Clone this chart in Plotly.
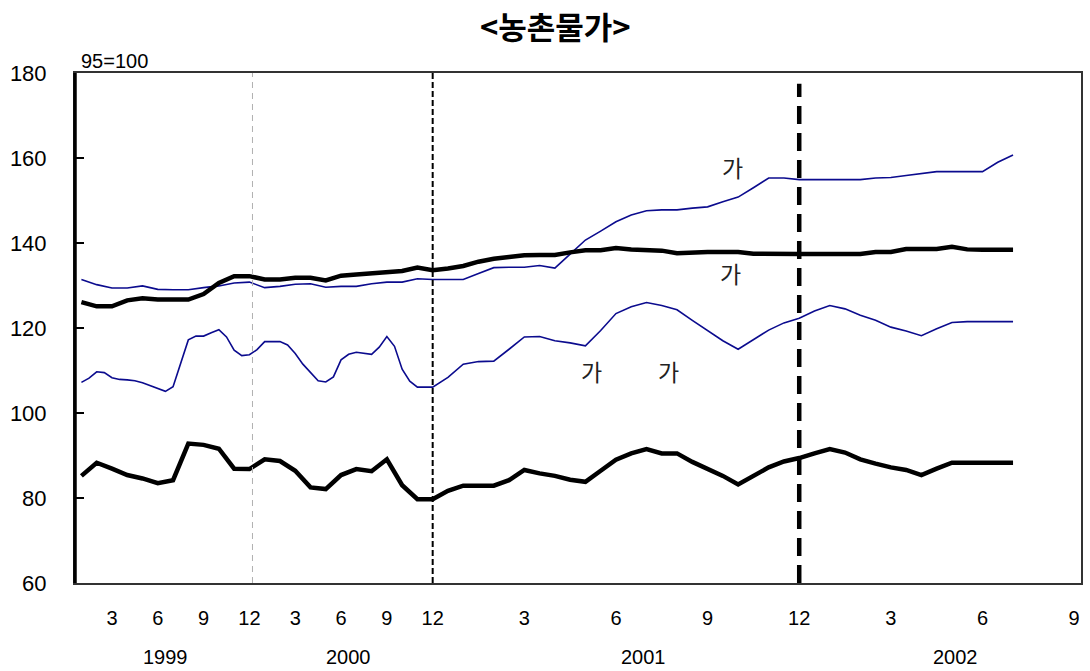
import numpy as np
import plotly.graph_objects as go

# Rural price indices, 1995 = 100
# 1999-2000: monthly observations; 2001 onward: semi-monthly observations
black_upper = [
    126.1, 125.1, 125.1, 126.5, 127.0, 126.7, 126.7, 126.7, 128.0, 130.6, 132.2, 132.2,
    131.4, 131.4, 131.8, 131.8, 131.2, 132.3, 132.6, 132.9, 133.2, 133.4, 134.2, 133.6,
    134.0, 134.6, 135.6, 136.3, 136.7, 137.1, 137.2, 137.2, 137.8, 138.3, 138.3, 138.8,
    138.5, 138.3, 138.2, 137.6, 137.8, 137.9, 137.9, 137.9, 137.5, 137.4, 137.4, 137.4,
    137.4, 137.4, 137.4, 137.4, 137.9, 137.9, 138.6, 138.6, 138.6, 139.1, 138.5, 138.4,
    138.4, 138.4,
]
blue_upper = [
    131.4, 130.2, 129.4, 129.4, 129.9, 129.1, 129.0, 129.0, 129.5, 129.9, 130.6, 130.8,
    129.5, 129.8, 130.3, 130.4, 129.6, 129.8, 129.8, 130.4, 130.8, 130.8, 131.6, 131.4,
    131.4, 131.4, 132.8, 134.2, 134.3, 134.3, 134.7, 134.1, 137.4, 140.7, 142.8, 145.0,
    146.6, 147.6, 147.8, 147.8, 148.2, 148.5, 149.7, 150.8, 153.0, 155.3, 155.3, 154.9,
    154.9, 154.9, 154.9, 154.9, 155.3, 155.4, 155.9, 156.3, 156.8, 156.8, 156.8, 156.8,
    159.0, 160.7,
]
black_lower = [
    85.2, 88.3, 86.9, 85.4, 84.6, 83.5, 84.2, 92.8, 92.5, 91.6, 86.9, 86.8,
    89.1, 88.7, 86.4, 82.5, 82.1, 85.4, 86.8, 86.3, 89.1, 83.0, 79.7, 79.7,
    81.7, 82.9, 82.9, 82.9, 84.2, 86.6, 85.8, 85.2, 84.3, 83.8, 86.4, 89.0,
    90.5, 91.5, 90.5, 90.5, 88.5, 86.8, 85.2, 83.2, 85.2, 87.2, 88.6, 89.4,
    90.5, 91.5, 90.7, 89.1, 88.1, 87.2, 86.6, 85.4, 86.9, 88.3, 88.3, 88.3,
    88.3, 88.3,
]
# this series is semi-monthly over the whole period
blue_lower_9900 = [
    107.2, 108.2, 109.7, 109.5, 108.3, 107.9, 107.8, 107.6, 107.1, 106.4, 105.7, 105.1,
    106.2, 111.5, 117.2, 118.1, 118.1, 118.9, 119.6, 117.9, 114.8, 113.5, 113.7, 114.9,
    116.8, 116.8, 116.8, 116.0, 114.0, 111.5, 109.6, 107.6, 107.3, 108.5, 112.5, 113.8,
    114.3, 114.1, 113.8, 115.5, 118.0, 115.7, 110.3, 107.5, 106.1, 106.1, 106.1,
]
blue_lower_0102 = [
    108.4, 111.5, 112.1, 112.2, 115.0, 117.9, 118.0, 117.0, 116.5, 115.8, 119.4, 123.4,
    125.0, 126.0, 125.3, 124.3, 121.8, 119.5, 117.0, 115.0, 117.3, 119.5, 121.2, 122.3,
    124.0, 125.3, 124.5, 123.0, 121.8, 120.2, 119.3, 118.2, 119.8, 121.3, 121.5, 121.5,
    121.5, 121.5,
]

tick_periods = [(1999, 3), (1999, 6), (1999, 9), (1999, 12),
                (2000, 3), (2000, 6), (2000, 9), (2000, 12),
                (2001, 3), (2001, 6), (2001, 9), (2001, 12),
                (2002, 3), (2002, 6), (2002, 9)]
years = [1999, 2000, 2001, 2002]
marker_periods = [(1999, 12), (2000, 12), (2001, 12)]
text_marks = [  # (year, month, value, text)
    (2001, 9.82, 158.0, "가"),
    (2001, 9.75, 133.0, "가"),
    (2001, 5.2, 110.0, "가"),
    (2001, 7.73, 110.0, "가"),
]


def pos(year, month):
    """Axis position: one unit per month through 2000, one unit per half-month after."""
    if year <= 2000:
        return (year - 1999) * 12 + month - 1
    return 23 + 2 * ((year - 2001) * 12 + month)


x_main = np.arange(len(black_upper))
x_blue_lower = np.concatenate([np.arange(len(blue_lower_9900)) * 0.5,
                               24 + np.arange(len(blue_lower_0102))])
y_blue_lower = blue_lower_9900 + blue_lower_0102

X_MIN, X_MAX = -0.42, 65.45
NAVY = "#0b0b8e"
LAT = "Liberation Sans, Arial, sans-serif"
KR = "Noto Sans CJK KR, sans-serif"

fig = go.Figure()
fig.add_trace(go.Scatter(x=x_main, y=blue_upper, mode="lines",
                         line=dict(color=NAVY, width=1.6)))
fig.add_trace(go.Scatter(x=x_blue_lower, y=y_blue_lower, mode="lines",
                         line=dict(color=NAVY, width=1.6)))
fig.add_trace(go.Scatter(x=x_main, y=black_upper, mode="lines",
                         line=dict(color="black", width=4.5)))
fig.add_trace(go.Scatter(x=x_main, y=black_lower, mode="lines",
                         line=dict(color="black", width=4.5)))

# vertical year-end markers
styles = [dict(color="#b0b0b0", width=1, dash="6px,5px"),
          dict(color="black", width=2, dash="6px,3px"),
          dict(color="black", width=4.5, dash="18px,9px")]
tops = [180, 180, 177.5]
for (yr, mo), st, top in zip(marker_periods, styles, tops):
    xv = pos(yr, mo) + (0.2 if yr == 1999 else 0)
    fig.add_shape(type="line", x0=xv, x1=xv, y0=60, y1=top, xref="x", yref="y",
                  line=st, layer="above")

# heavy left axis line
fig.add_shape(type="line", xref="paper", yref="paper", x0=0, x1=0, y0=0, y1=1,
              line=dict(color="black", width=3.5))

for yr, mo, val, txt in text_marks:
    fig.add_annotation(x=pos(yr, mo), y=val, text=txt, showarrow=False,
                       font=dict(family=KR, size=23, color="#222"))

# year labels under the month ticks
for yr in years:
    first = pos(yr, 1)
    last = min(pos(yr, 12), X_MAX)
    fig.add_annotation(x=(first + last) / 2 + (0.8 if yr == 2001 else 0), y=0,
                       xref="x", yref="paper", yshift=-87, text=str(yr),
                       showarrow=False, font=dict(family=LAT, size=20, color="black"))

fig.add_annotation(xref="paper", yref="paper", x=0.478, y=1.0, yanchor="top",
                   yshift=72, text="<b>&lt;농촌물가&gt;</b>", showarrow=False,
                   font=dict(family=KR, size=31, color="black"))
fig.add_annotation(xref="paper", yref="paper", x=0.004, y=1.0, yshift=-1,
                   xanchor="left", yanchor="bottom", text="95=100", showarrow=False,
                   font=dict(family=LAT, size=20, color="black"))

fig.update_xaxes(range=[X_MIN, X_MAX],
                 tickvals=[pos(y, m) for y, m in tick_periods],
                 ticktext=[str(m) for _, m in tick_periods],
                 tickfont=dict(family=LAT, size=20, color="black"),
                 ticks="", showgrid=False, zeroline=False,
                 showline=True, linecolor="#333", linewidth=2, mirror=True,
                 ticklabelstandoff=16)
fig.update_yaxes(range=[60, 180], tickvals=list(range(60, 181, 20)),
                 tickfont=dict(family=LAT, size=22, color="black"),
                 ticks="inside", ticklen=9, tickwidth=2, tickcolor="black",
                 showgrid=False, zeroline=False,
                 showline=True, linecolor="#333", linewidth=2, mirror=True,
                 ticklabelstandoff=22)

fig.update_layout(width=1090, height=671, showlegend=False,
                  margin=dict(l=75, r=7, t=73, b=88),
                  paper_bgcolor="white", plot_bgcolor="white")

fig.write_html("out.html")
